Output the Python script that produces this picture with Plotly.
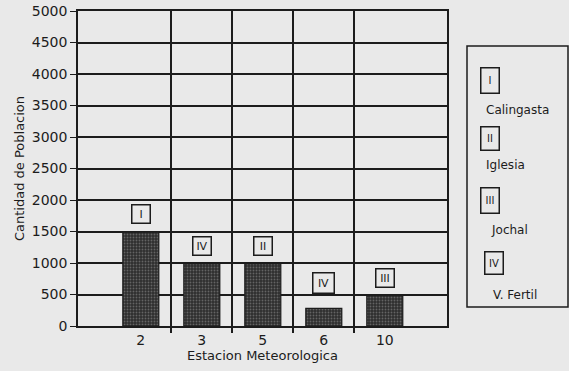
import plotly.graph_objects as go

categories = ["2", "3", "5", "6", "10"]
values = [1490, 990, 990, 280, 480]
bar_labels = ["I", "IV", "II", "IV", "III"]
legend_codes = ["I", "II", "III", "IV"]
legend_names = ["Calingasta", "Iglesia", "Jochal", "V. Fertil"]
y_ticks = list(range(0, 5001, 500))

FONT = "DejaVu Sans"
INK = "#1c1c1c"
BG = "#e9e9e9"

idx = list(range(len(categories)))
boundaries = [i + 0.5 for i in range(len(categories) - 1)]

fig = go.Figure()
fig.add_trace(go.Bar(
    x=idx, y=values, width=0.59,
    marker=dict(
        color="#2e2e2e",
        line=dict(color=INK, width=1.2),
        pattern=dict(shape=".", fgcolor="#9a9a9a", bgcolor="#2e2e2e",
                     size=3, solidity=0.3, fillmode="overlay"),
    ),
    showlegend=False, hoverinfo="skip",
))
fig.add_trace(go.Scatter(x=[boundaries[0]], y=[0], xaxis="x2", mode="markers",
                         marker=dict(opacity=0), showlegend=False, hoverinfo="skip"))

for i, (v, lab) in enumerate(zip(values, bar_labels)):
    big = (i == 3)
    fig.add_annotation(
        x=i, y=v, xref="x", yref="y", text=lab, showarrow=False,
        xanchor="center", yanchor="bottom", yshift=8 if not big else 14,
        font=dict(family=FONT, size=11, color=INK),
        bordercolor=INK, borderwidth=1.5, borderpad=2,
        width=16 if big else 13, height=15 if big else 13,
    )

def px_x(p):
    return (p - 78) / 369.0

def px_y(p):
    return (326 - p) / 315.0

fig.add_shape(type="rect", xref="paper", yref="paper",
              x0=px_x(467), x1=px_x(568), y0=px_y(307), y1=px_y(46),
              line=dict(color=INK, width=1.5), fillcolor="rgba(0,0,0,0)")
box_y = [80, 138, 200, 263]
text_y = [110, 165, 230, 295]
text_x = [484, 484, 489, 491]
box_x = [490, 490, 490, 494]
box_h = [20, 18, 20, 17]
for code, name, bx, by, tx, ty, bh in zip(legend_codes, legend_names, box_x, box_y, text_x, text_y, box_h):
    fig.add_annotation(x=px_x(bx), y=px_y(by), xref="paper", yref="paper",
                       text=code, showarrow=False, xanchor="center", yanchor="middle",
                       font=dict(family=FONT, size=10, color=INK),
                       bordercolor=INK, borderwidth=1.5, borderpad=2,
                       width=13, height=bh)
    fig.add_annotation(x=px_x(tx), y=px_y(ty), xref="paper", yref="paper",
                       text=name, showarrow=False, xanchor="left", yanchor="middle",
                       font=dict(family=FONT, size=12, color=INK))

fig.update_layout(
    width=569, height=371,
    margin=dict(l=78, r=122, t=11, b=45, autoexpand=False),
    paper_bgcolor=BG, plot_bgcolor=BG,
    font=dict(family=FONT, size=13, color=INK),
    xaxis=dict(
        range=[-1.03, 5.02], tickvals=idx, ticktext=categories,
        ticks="", showgrid=False, zeroline=False, automargin=False,
        showline=True, mirror=True, linecolor=INK, linewidth=1.5,
        tickfont=dict(size=14),
        title=dict(text="Estacion Meteorologica", font=dict(size=13), standoff=1),
    ),
    xaxis2=dict(
        overlaying="x", matches="x", anchor="y", side="bottom",
        tickvals=boundaries, ticktext=[""] * len(boundaries),
        ticks="outside", ticklen=6, tickwidth=1.5, tickcolor=INK,
        showgrid=True, gridcolor=INK, gridwidth=1.5, zeroline=False,
        showline=False, automargin=False,
    ),
    yaxis=dict(
        range=[0, 5000], tickvals=y_ticks,
        ticks="outside", ticklen=6, tickwidth=1.2, tickcolor=INK,
        showgrid=True, gridcolor=INK, gridwidth=1.5, zeroline=False,
        showline=True, mirror=True, linecolor=INK, linewidth=1.5,
        tickfont=dict(size=14), automargin=False,
        title=dict(text="Cantidad de Poblacion", font=dict(size=13), standoff=4),
    ),
)

fig.write_html(
    "out.html",
    config={"displayModeBar": False},
    post_script="document.body.style.margin='0';document.body.style.background='%s';" % BG,
)
